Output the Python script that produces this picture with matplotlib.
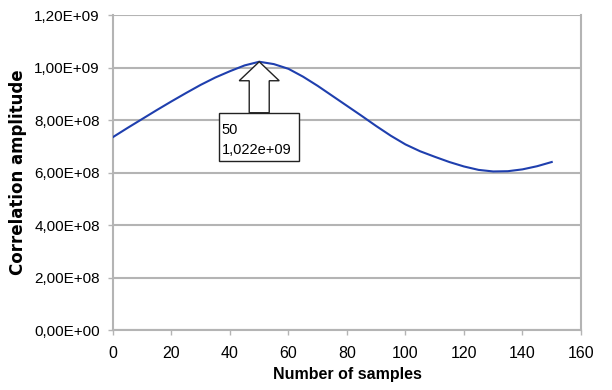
import numpy as np
import matplotlib.pyplot as plt
from matplotlib.patches import Polygon, Rectangle
from matplotlib.ticker import FuncFormatter
import matplotlib.transforms as mtransforms

plt.rcParams['font.family'] = ['Liberation Sans', 'DejaVu Sans']

# Correlation amplitude vs. number of samples
samples = [0, 5, 10, 15, 20, 25, 30, 35, 40, 45, 50, 55, 60, 65, 70, 75,
           80, 85, 90, 95, 100, 105, 110, 115, 120, 125, 130, 135, 140, 145, 150]
amplitude = [0.735e9, 0.770e9, 0.804e9, 0.838e9, 0.871e9, 0.903e9, 0.934e9,
             0.962e9, 0.986e9, 1.008e9, 1.022e9, 1.013e9, 0.995e9, 0.965e9,
             0.930e9, 0.892e9, 0.854e9, 0.816e9, 0.777e9, 0.740e9, 0.707e9,
             0.681e9, 0.660e9, 0.640e9, 0.623e9, 0.610e9, 0.604e9, 0.605e9,
             0.612e9, 0.624e9, 0.640e9]

peak_x = 50
peak_y = 1.022e9
peak_label = "50\n1,022e+09"

x_ticks = [0, 20, 40, 60, 80, 100, 120, 140, 160]
y_ticks = [0, 2e8, 4e8, 6e8, 8e8, 1e9, 1.2e9]

grid_col = '#b4b4b4'

fig = plt.figure(figsize=(6.12, 3.9), dpi=100)
ax = fig.add_axes([0.1846, 0.1538, 0.7647, 0.8077])

ax.plot(samples, amplitude, color='#1f3fae', linewidth=1.5, zorder=3)

ax.set_xlim(0, 160)
ax.set_ylim(0, 1.2e9)
ax.set_xticks(x_ticks)
ax.set_yticks(y_ticks)


def sci_comma(v, pos):
    s = f"{v:.2E}"
    mant, exp = s.split('E')
    return f"{mant.replace('.', ',')}E{exp[0]}{int(exp[1:]):02d}"


ax.yaxis.set_major_formatter(FuncFormatter(sci_comma))
ax.grid(axis='y', color=grid_col, linewidth=1.5, zorder=0)
ax.tick_params(axis='both', direction='out', length=3.5, width=1,
               color=grid_col, labelsize=11, labelcolor='black')
ax.tick_params(axis='x', pad=8, labelsize=11.5)
ax.tick_params(axis='y', pad=6)

for side in ['left', 'right', 'bottom']:
    ax.spines[side].set_color(grid_col)
    ax.spines[side].set_linewidth(1.5)
ax.spines['top'].set_visible(False)

ax.set_xlabel('Number of samples', fontsize=11.5, fontweight='bold', labelpad=4)
ax.set_ylabel('Correlation amplitude', fontsize=12, fontweight='bold',
              family='DejaVu Sans', labelpad=5)

# Block arrow and callout box anchored at the peak (offsets in inches)
anchor = fig.dpi_scale_trans + mtransforms.ScaledTranslation(peak_x, peak_y, ax.transData)
arrow = Polygon([(0, 0), (0.20, -0.19), (0.10, -0.19), (0.10, -0.51),
                 (-0.10, -0.51), (-0.10, -0.19), (-0.20, -0.19)],
                closed=True, facecolor='white', edgecolor='#222222',
                linewidth=1, transform=anchor, zorder=4)
ax.add_patch(arrow)
box = Rectangle((-0.40, -0.99), 0.80, 0.48, facecolor='white',
                edgecolor='#222222', linewidth=1, transform=anchor, zorder=4)
ax.add_patch(box)
ax.text(-0.375, -0.615, peak_label, transform=anchor, ha='left', va='top',
        fontsize=10.5, linespacing=1.5, zorder=5)

plt.savefig('out.png', dpi=100)
